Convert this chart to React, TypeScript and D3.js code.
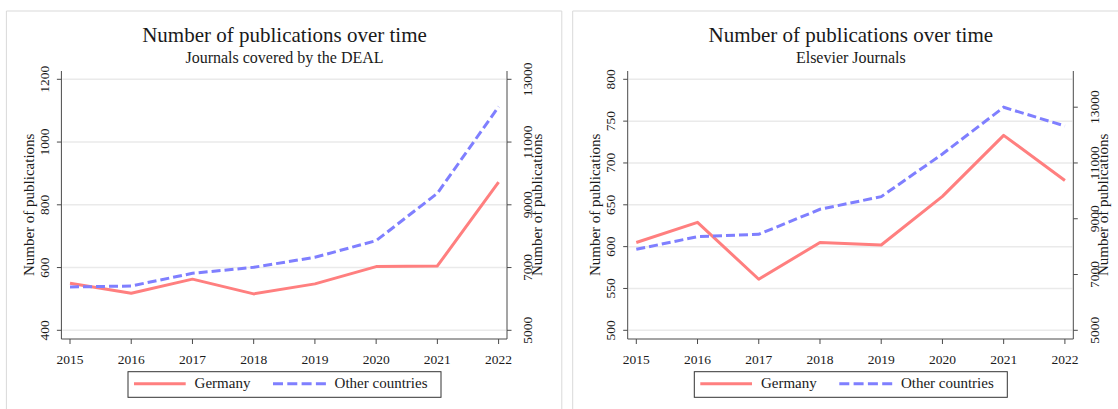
import * as d3 from "d3";
import React from "react";

// values
const years = [2015, 2016, 2017, 2018, 2019, 2020, 2021, 2022];

const dealGermany = [550, 518, 563, 516, 548, 603, 605, 872];
const dealOther = [6380, 6412, 6817, 7008, 7327, 7857, 9366, 12127];
const dealLeftTicks = [400, 600, 800, 1000, 1200];
const dealRightTicks = [5000, 7000, 9000, 11000, 13000];

const elsGermany = [605, 629, 561, 605, 602, 660, 733, 679];
const elsOther = [7905, 8357, 8443, 9339, 9791, 11322, 12997, 12326];
const elsLeftTicks = [500, 550, 600, 650, 700, 750, 800];
const elsRightTicks = [5000, 7000, 9000, 11000, 13000];

const seriesNames = ["Germany", "Other countries"];

const font = '"Liberation Serif", "Times New Roman", serif';
const red = "#ff7f7f";
const blue = "#7f7fff";
const axisColor = "#4a4a4a";
const textColor = "#1a1a1a";

// panel geometry (relative to panel origin)
const axisL = 61.4;
const axisR = 507;
const axisTop = 71;
const axisBottom = 339;
const yTop = 79.3;
const yBottom = 330.3;
const xFirst = 70;
const xLast = 498.6;

interface PanelProps {
  ox: number;
  subtitle: string;
  germany: number[];
  other: number[];
  leftDomain: [number, number];
  leftTicks: number[];
  rightDomain: [number, number];
  rightTicks: number[];
  borderWidth: number;
}

function Panel(props: PanelProps) {
  const { ox, subtitle, germany, other, leftDomain, leftTicks, rightDomain, rightTicks, borderWidth } = props;

  const x = d3.scaleLinear().domain([2015, 2022]).range([xFirst, xLast]);
  const yL = d3.scaleLinear().domain(leftDomain).range([yBottom, yTop]);
  const yR = d3.scaleLinear().domain(rightDomain).range([yBottom, yTop]);

  const lineL = d3
    .line<number>()
    .x((_, i) => x(years[i]))
    .y((d) => yL(d));
  const lineR = d3
    .line<number>()
    .x((_, i) => x(years[i]))
    .y((d) => yR(d));

  const tickFs = 13.5;
  const midY = (yTop + yBottom) / 2;

  const legX = 128;
  const legY = 371.7;

  return (
    <g transform={`translate(${ox},0)`} fontFamily={font} fill={textColor}>
      {/* panel frame */}
      <path
        d={`M6.4,409 V11 H${6.4 + borderWidth}${borderWidth < 600 ? " V409" : ""}`}
        fill="none"
        stroke="#d9d9d9"
        strokeWidth={1}
      />

      <text x={284.5} y={42} textAnchor="middle" fontSize={21}>
        Number of publications over time
      </text>
      <text x={284.5} y={63} textAnchor="middle" fontSize={16}>
        {subtitle}
      </text>

      {/* gridlines */}
      {leftTicks.map((t) => (
        <line key={`g${t}`} x1={axisL + 1} x2={axisR - 1} y1={yL(t)} y2={yL(t)} stroke="#eaeaea" strokeWidth={1.5} />
      ))}

      {/* left axis */}
      <line x1={axisL} x2={axisL} y1={axisTop} y2={axisBottom} stroke={axisColor} strokeWidth={1} />
      {leftTicks.map((t) => (
        <g key={`l${t}`}>
          <line x1={axisL - 4.5} x2={axisL} y1={yL(t)} y2={yL(t)} stroke={axisColor} strokeWidth={1} />
          <text
            transform={`translate(${axisL - 16.8 + tickFs * 0.33},${yL(t)}) rotate(-90)`}
            textAnchor="middle"
            fontSize={tickFs}
          >
            {t}
          </text>
        </g>
      ))}
      <text transform={`translate(${28.6 + 15 * 0.33},${midY}) rotate(-90)`} textAnchor="middle" fontSize={15}>
        Number of publications
      </text>

      {/* right axis */}
      <line x1={axisR} x2={axisR} y1={axisTop} y2={axisBottom} stroke={axisColor} strokeWidth={1} />
      {rightTicks.map((t) => (
        <g key={`r${t}`}>
          <line x1={axisR} x2={axisR + 4.5} y1={yR(t)} y2={yR(t)} stroke={axisColor} strokeWidth={1} />
          <text
            transform={`translate(${axisR + 21 + tickFs * 0.33},${yR(t)}) rotate(-90)`}
            textAnchor="middle"
            fontSize={tickFs}
          >
            {t}
          </text>
        </g>
      ))}
      <text transform={`translate(${axisR + 29.6 + 15 * 0.33},${midY}) rotate(-90)`} textAnchor="middle" fontSize={15}>
        Number of publications
      </text>

      {/* bottom axis */}
      <line x1={axisL} x2={axisR} y1={axisBottom} y2={axisBottom} stroke={axisColor} strokeWidth={1} />
      {years.map((yr) => (
        <g key={yr}>
          <line x1={x(yr)} x2={x(yr)} y1={axisBottom} y2={axisBottom + 5} stroke={axisColor} strokeWidth={1} />
          <text x={x(yr)} y={363.5} textAnchor="middle" fontSize={tickFs}>
            {yr}
          </text>
        </g>
      ))}

      {/* series */}
      <path d={lineL(germany) ?? ""} fill="none" stroke={red} strokeWidth={3} strokeLinejoin="round" />
      <path d={lineR(other) ?? ""} fill="none" stroke={blue} strokeWidth={3} strokeDasharray="9 4" />

      {/* legend */}
      <rect x={legX} y={legY} width={313} height={25.6} fill="#fff" stroke="#333" strokeWidth={1} />
      <line x1={134} x2={185.7} y1={383.8} y2={383.8} stroke={red} strokeWidth={3} />
      <text x={194.6} y={388} fontSize={15}>
        {seriesNames[0]}
      </text>
      <line x1={273} x2={326} y1={383.8} y2={383.8} stroke={blue} strokeWidth={3} strokeDasharray="10 4.3" />
      <text x={334.6} y={388} fontSize={15}>
        {seriesNames[1]}
      </text>
    </g>
  );
}

export default function App() {
  return (
    <svg
      width={1118}
      height={409}
      viewBox="0 0 1118 409"
      style={{ position: "absolute", left: 0, top: 0, background: "#fff" }}
    >
      <rect width={1118} height={409} fill="#fff" />
      <Panel
        ox={0}
        subtitle="Journals covered by the DEAL"
        germany={dealGermany}
        other={dealOther}
        leftDomain={[400, 1200]}
        leftTicks={dealLeftTicks}
        rightDomain={[5000, 13000]}
        rightTicks={dealRightTicks}
        borderWidth={555.4}
      />
      <Panel
        ox={566.3}
        subtitle="Elsevier Journals"
        germany={elsGermany}
        other={elsOther}
        leftDomain={[500, 800]}
        leftTicks={elsLeftTicks}
        rightDomain={[5000, 14000]}
        rightTicks={elsRightTicks}
        borderWidth={700}
      />
    </svg>
  );
}
